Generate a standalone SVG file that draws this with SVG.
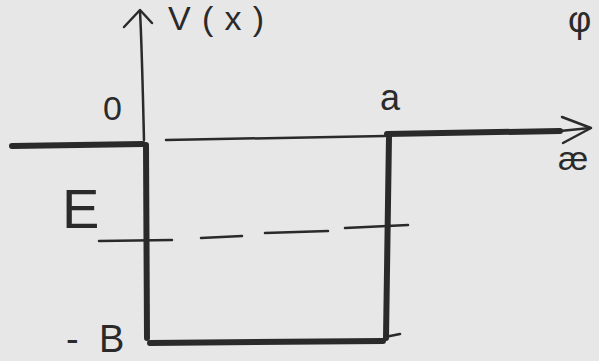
<svg xmlns="http://www.w3.org/2000/svg" width="599" height="361" viewBox="0 0 599 361">
<style>
.ink{stroke:#2a2a2a;fill:none;stroke-linecap:round;stroke-linejoin:round}
.thin{stroke-width:2.5}
.thick{stroke-width:6}
.lbl{font-family:"Liberation Sans",Arial,sans-serif;fill:#2a2a2a}
</style>
<rect width="599" height="361" fill="#e7e7e7"/>
<g id="connectors">
<path class="ink thin" d="M144,140 C143,100 142,50 140,11"/>
<path class="ink thin" d="M124,27 L140,10 L152,23"/>
<path class="ink thick" d="M12,146 L143,144"/>
<path class="ink thin" d="M166,140 L385,136"/>
<path class="ink thick" d="M387,134 L560,131"/>
<path class="ink thin" d="M560,131 L590,128"/>
<path class="ink thin" d="M562,117 L591,128 L563,143"/>
<path class="ink thick" d="M146,145 L147,338"/>
<path class="ink thick" d="M150,343 L383,341"/>
<path class="ink thick" d="M389,136 L386,338"/>
<path class="ink thin" d="M385,337 L400,334"/>
<path class="ink thin" d="M99,241 L172,240"/>
<path class="ink thin" d="M201,238 L242,236"/>
<path class="ink thin" d="M265,233 L328,231"/>
<path class="ink thin" d="M345,228 L408,225"/>
</g>
<g id="label-V"><text class="lbl" x="168" y="30" font-size="34" textLength="96">V(x)</text></g>
<g id="label-phi"><text class="lbl" x="568" y="32" font-size="36">φ</text></g>
<g id="label-0"><text class="lbl" x="103" y="120" font-size="34">0</text></g>
<g id="label-a"><text class="lbl" x="380" y="110" font-size="36">a</text></g>
<g id="label-x"><text class="lbl" x="558" y="170" font-size="34">æ</text></g>
<g id="label-E"><text class="lbl" x="62" y="228" font-size="56">E</text></g>
<g id="label-B"><text class="lbl" x="66" y="352" font-size="38">-<tspan x="99">B</tspan></text></g>
</svg>
